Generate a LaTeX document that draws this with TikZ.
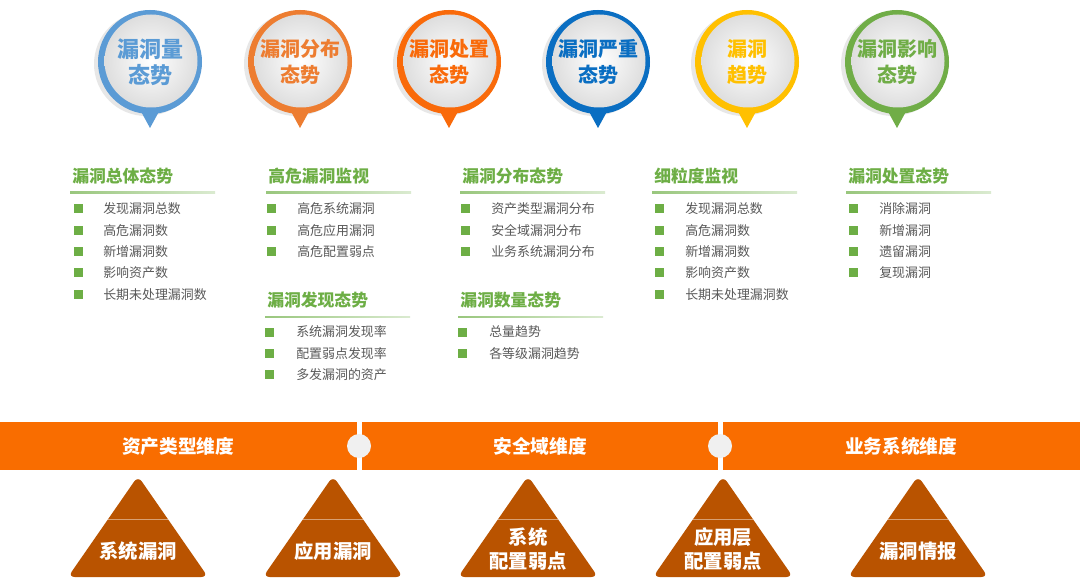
\documentclass[tikz,border=0pt]{standalone}
\usepackage{fontspec}
\newfontfamily\cjk{Noto Sans CJK SC}
\definecolor{pa}{HTML}{5B9BD5}
\definecolor{pb}{HTML}{ED7D31}
\definecolor{pc}{HTML}{F96A0A}
\definecolor{pd}{HTML}{0A6EC2}
\definecolor{pe}{HTML}{FFC000}
\definecolor{pf}{HTML}{70AD47}
\definecolor{grn}{HTML}{6DAE45}
\definecolor{itemgray}{HTML}{595959}
\definecolor{band}{HTML}{F96D00}
\definecolor{tri}{HTML}{B95300}
\tikzset{
  pintext/.style={align=center,font=\cjk\bfseries\fontsize{15}{19.5}\selectfont},
  pinbig/.style={align=center,font=\cjk\bfseries\fontsize{16.5}{19.5}\selectfont},
  head/.style={anchor=west,text=grn,inner sep=0pt,font=\cjk\bfseries\fontsize{12.6}{14}\selectfont},
  itemtxt/.style={anchor=west,text=itemgray,inner sep=0pt,font=\cjk\fontsize{9.7}{11}\selectfont},
  bandtxt/.style={text=white,font=\cjk\bfseries\fontsize{14}{16}\selectfont},
  tritxt/.style={text=white,align=center,font=\cjk\bfseries\fontsize{14.5}{17.5}\selectfont},
}
\begin{document}
\begin{tikzpicture}[x=0.75pt,y=-0.75pt]
\useasboundingbox (0,0) rectangle (1080,584);
\fill[white] (0,0) rectangle (1080,584);
% ---------- pins ----------
\foreach \cx/\col/\n in {150/pa/1,300/pb/2,449/pc/3,598/pd/4,747/pe/5,897/pf/6}{
  \fill[black!30,opacity=.3] (\cx-4,64) circle (52);
  \fill[\col] (\cx-12,106) -- (\cx+12,106) -- (\cx,128) -- cycle;
  \fill[\col] (\cx,62) circle (52);
  \shade[inner color=white,outer color=black!13] (\cx+1,61) circle (46.5);
}
\node[pinbig,text=pa] (pin1) at (150,62) {漏洞量\\态势};
\node[pintext,text=pb] (pin2) at (300,62) {漏洞分布\\态势};
\node[pintext,text=pc] (pin3) at (449,62) {漏洞处置\\态势};
\node[pintext,text=pd] (pin4) at (598,62) {漏洞严重\\态势};
\node[pintext,text=pe] (pin5) at (747,62) {漏洞\\趋势};
\node[pintext,text=pf] (pin6) at (897,62) {漏洞影响\\态势};
% ---------- columns ----------
\newcommand{\colhead}[4]{% x, y, name, text
  \node[head] (#3) at (#1,#2) {#4};
  \shade[left color=grn!70,right color=grn!25] (#1-2,#2+16) rectangle (#1+143,#2+17.5);
}
% column 1
\colhead{72}{176}{h1}{漏洞总体态势}
\foreach \t [count=\i] in {发现漏洞总数,高危漏洞数,新增漏洞数,影响资产数,长期未处理漏洞数}{
  \pgfmathsetmacro{\yy}{209+(\i-1)*21.3}
  \fill[grn] (74,\yy-4.5) rectangle (83,\yy+4.5);
  \node[itemtxt] (a\i) at (103,\yy) {\t};
}
% column 2
\colhead{268}{176}{h2}{高危漏洞监视}
\foreach \t [count=\i] in {高危系统漏洞,高危应用漏洞,高危配置弱点}{
  \pgfmathsetmacro{\yy}{209+(\i-1)*21.3}
  \fill[grn] (267,\yy-4.5) rectangle (276,\yy+4.5);
  \node[itemtxt] (b\i) at (297,\yy) {\t};
}
\colhead{267}{300}{h2b}{漏洞发现态势}
\foreach \t [count=\i] in {系统漏洞发现率,配置弱点发现率,多发漏洞的资产}{
  \pgfmathsetmacro{\yy}{332+(\i-1)*21.3}
  \fill[grn] (265,\yy-4.5) rectangle (274,\yy+4.5);
  \node[itemtxt] (c\i) at (296,\yy) {\t};
}
% column 3
\colhead{462}{176}{h3}{漏洞分布态势}
\foreach \t [count=\i] in {资产类型漏洞分布,安全域漏洞分布,业务系统漏洞分布}{
  \pgfmathsetmacro{\yy}{209+(\i-1)*21.3}
  \fill[grn] (461,\yy-4.5) rectangle (470,\yy+4.5);
  \node[itemtxt] (d\i) at (491,\yy) {\t};
}
\colhead{460}{300}{h3b}{漏洞数量态势}
\foreach \t [count=\i] in {总量趋势,各等级漏洞趋势}{
  \pgfmathsetmacro{\yy}{332+(\i-1)*21.3}
  \fill[grn] (458,\yy-4.5) rectangle (467,\yy+4.5);
  \node[itemtxt] (e\i) at (489,\yy) {\t};
}
% column 4
\colhead{654}{176}{h4}{细粒度监视}
\foreach \t [count=\i] in {发现漏洞总数,高危漏洞数,新增漏洞数,影响资产数,长期未处理漏洞数}{
  \pgfmathsetmacro{\yy}{209+(\i-1)*21.3}
  \fill[grn] (655,\yy-4.5) rectangle (664,\yy+4.5);
  \node[itemtxt] (f\i) at (685,\yy) {\t};
}
% column 5
\colhead{848}{176}{h5}{漏洞处置态势}
\foreach \t [count=\i] in {消除漏洞,新增漏洞,遗留漏洞,复现漏洞}{
  \pgfmathsetmacro{\yy}{209+(\i-1)*21.3}
  \fill[grn] (849,\yy-4.5) rectangle (858,\yy+4.5);
  \node[itemtxt] (g\i) at (879,\yy) {\t};
}
% ---------- band ----------
\fill[band] (0,422) rectangle (1080,470);
\fill[white] (357,422) rectangle (361.5,470);
\fill[white] (718,422) rectangle (722.5,470);
\fill[black!6] (359,446) circle (12);
\fill[black!6] (720,446) circle (12);
\node[bandtxt] (d1) at (178,446) {资产类型维度};
\node[bandtxt] (d2) at (540,446) {安全域维度};
\node[bandtxt] (d3) at (901,446) {业务系统维度};
% ---------- triangles ----------
\foreach \cx/\n in {138/1,333/2,528/3,723/4,918/5}{
  \fill[tri,rounded corners=5] (\cx,476) -- (\cx+70,577) -- (\cx-70,577) -- cycle;
  \draw[white,opacity=.45,line width=0.6pt] (\cx-30,519) -- (\cx+30,519);
}
\node[tritxt] (t1) at (138,551) {系统漏洞};
\node[tritxt] (t2) at (333,551) {应用漏洞};
\node[tritxt] (t3) at (528,549) {系统\\配置弱点};
\node[tritxt] (t4) at (723,549) {应用层\\配置弱点};
\node[tritxt] (t5) at (918,551) {漏洞情报};
\end{tikzpicture}
\end{document}
